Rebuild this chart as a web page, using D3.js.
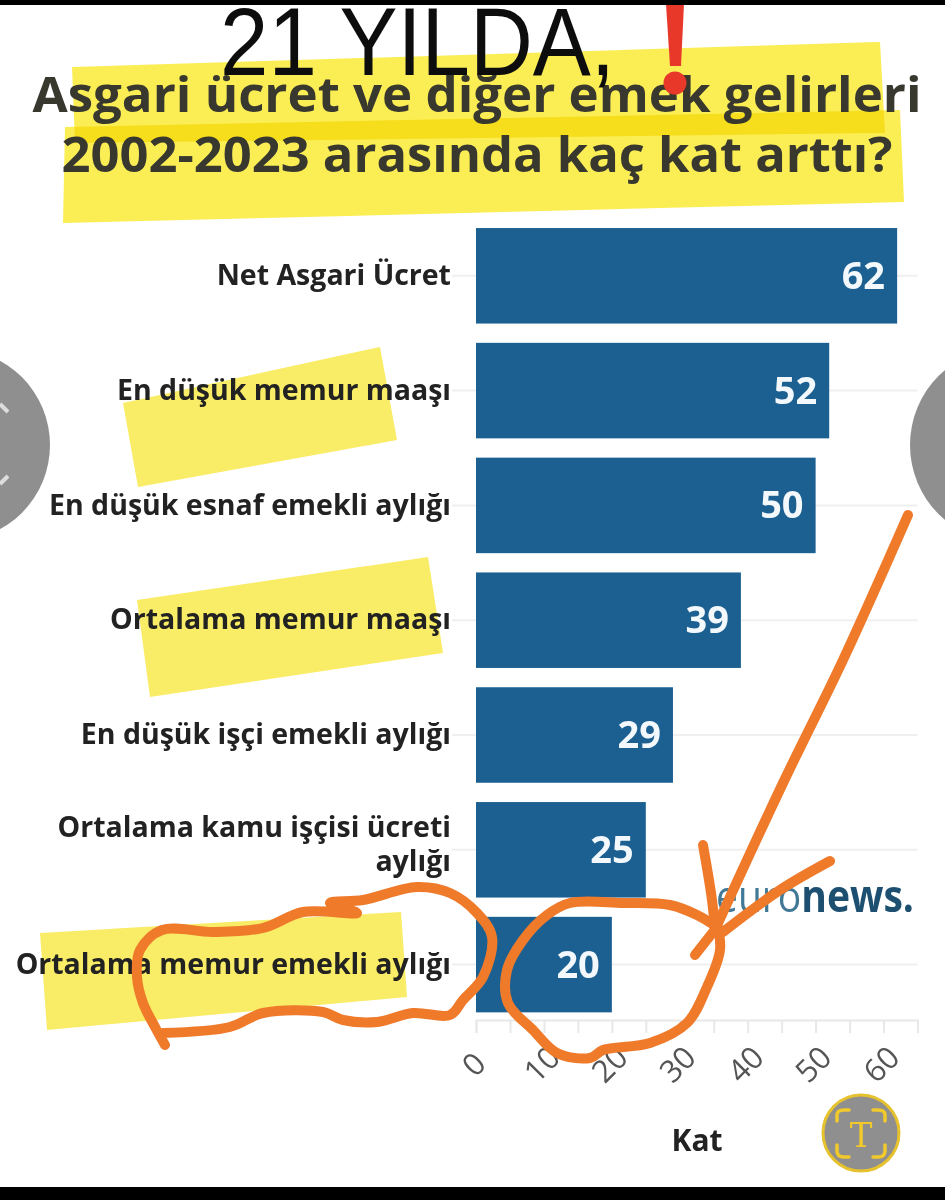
<!DOCTYPE html>
<html>
<head>
<meta charset="utf-8">
<script src="https://cdn.jsdelivr.net/npm/d3@7"></script>
<style>
  html, body { margin: 0; padding: 0; background: #fff; }
  text { font-family: "Open Sans", sans-serif; }
</style>
</head>
<body>
<div id="chart"></div>
<script>
const categories = [
  "Net Asgari Ücret",
  "En düşük memur maaşı",
  "En düşük esnaf emekli aylığı",
  "Ortalama memur maaşı",
  "En düşük işçi emekli aylığı",
  "Ortalama kamu işçisi ücreti aylığı",
  "Ortalama memur emekli aylığı"
];
const values = [62, 52, 50, 39, 29, 25, 20];
const axisTicks = [0, 5, 10, 15, 20, 25, 30, 35, 40, 45, 50, 55, 60, 65];
const tickLabels = [0, 10, 20, 30, 40, 50, 60];
const overTitle = "21 YILDA,";
const titleLines = ["Asgari ücret ve diğer emek gelirleri", "2002-2023 arasında kaç kat arttı?"];
const axisTitle = "Kat";

const width = 945, height = 1200;
const barColor = "#1b6092", yellow = "#f9ec66", orange = "#ef7a2c";

const svg = d3.select("#chart").append("svg")
  .attr("width", width)
  .attr("height", height)
  .style("display", "block");

svg.append("defs").append("filter").attr("id", "soft")
  .append("feGaussianBlur").attr("stdDeviation", 0.6);

const root = svg.append("g").attr("filter", "url(#soft)");

const x = d3.scaleLinear().domain([0, 65]).range([476, 917.5]);
const y = d3.scaleBand().domain(categories).range([218.4, 1022]).paddingInner(0.168).paddingOuter(0.084);

const polygon = (pts, fill) => root.append("polygon")
  .attr("points", pts.map(p => p.join(",")).join(" "))
  .attr("fill", fill)
  .style("mix-blend-mode", "multiply");

// grey page arrows from the screenshot
root.append("circle").attr("cx", -46).attr("cy", 445).attr("r", 96).attr("fill", "#8f8f8f");
root.append("circle").attr("cx", 1008).attr("cy", 445).attr("r", 98).attr("fill", "#8f8f8f");
root.append("path").attr("d", "M0,404L8,412M0,484L8,476").attr("stroke", "#ddd").attr("stroke-width", 4).attr("fill", "none");

// yellow marker highlights
polygon([[72, 67], [880, 42], [885, 133], [75, 143]], "#fbee55");
polygon([[65, 127], [900, 110], [904, 202], [63, 223]], "#fbee55");
polygon([[123, 403], [380, 347], [397, 440], [138, 487]], yellow);
polygon([[137, 600], [428, 557], [443, 653], [150, 697]], yellow);
polygon([[40, 933], [401, 912], [407, 997], [47, 1030]], yellow);

// horizontal grid
root.append("g").selectAll("line")
  .data(categories)
  .join("line")
  .attr("x1", 452)
  .attr("x2", x(65))
  .attr("y1", d => y(d) + y.bandwidth() / 2)
  .attr("y2", d => y(d) + y.bandwidth() / 2)
  .attr("stroke", "#efefef")
  .attr("stroke-width", 2);

// bars
root.append("g").selectAll("rect")
  .data(values)
  .join("rect")
  .attr("x", x(0))
  .attr("y", (d, i) => y(categories[i]))
  .attr("width", d => x(d) - x(0))
  .attr("height", y.bandwidth())
  .attr("fill", barColor);

root.append("g").selectAll("text")
  .data(values)
  .join("text")
  .attr("x", d => x(d) - 12)
  .attr("y", (d, i) => y(categories[i]) + y.bandwidth() / 2 + 13)
  .attr("text-anchor", "end")
  .attr("font-size", 38)
  .attr("font-weight", 700)
  .attr("fill", "#f2f8fb")
  .text(d => d);

// category axis
const yAxis = root.append("g")
  .attr("transform", `translate(${x(0)},0)`)
  .call(d3.axisLeft(y).tickSize(0).tickPadding(25));
yAxis.select(".domain").remove();
yAxis.selectAll("text")
  .attr("font-size", 28.5)
  .attr("font-weight", 700)
  .attr("fill", "#222")
  .style("font-family", '"Open Sans", sans-serif')
  .each(function (d) {
    const t = d3.select(this);
    if (this.getComputedTextLength() <= 445) return;
    const words = d.split(" ");
    const last = words.pop();
    const tx = t.attr("x");
    t.text(null).attr("dy", null);
    t.append("tspan").attr("x", tx).attr("y", -13).text(words.join(" "));
    t.append("tspan").attr("x", tx).attr("y", 21).text(last);
  });

// value axis
const xAxis = root.append("g")
  .attr("transform", "translate(0,1020)")
  .call(d3.axisBottom(x).tickValues(axisTicks).tickSize(13).tickFormat(d => tickLabels.includes(d) ? d : ""));
xAxis.select(".domain").attr("stroke", "#e8e8e8").attr("stroke-width", 2);
xAxis.selectAll(".tick line").attr("stroke", "#e8e8e8").attr("stroke-width", 2);
xAxis.selectAll(".tick text")
  .attr("font-size", 31)
  .attr("fill", "#555")
  .style("font-family", '"Open Sans", sans-serif')
  .attr("text-anchor", "middle")
  .attr("dy", null)
  .attr("y", 0)
  .attr("transform", "translate(5,52) rotate(-45)");

root.append("text")
  .attr("x", 697).attr("y", 1151)
  .attr("text-anchor", "middle")
  .attr("font-size", 30).attr("font-weight", 700).attr("fill", "#222")
  .text(axisTitle);

// euronews logo
const logo = root.append("text").attr("x", 716).attr("y", 912).attr("font-size", 44)
  .attr("textLength", 198).attr("lengthAdjust", "spacingAndGlyphs");
logo.append("tspan").attr("fill", "#3f7896").attr("font-weight", 400).text("euro");
logo.append("tspan").attr("fill", "#1d4f70").attr("font-weight", 700).text("news.");

// titles
root.append("text")
  .attr("x", 477).attr("y", 112)
  .attr("text-anchor", "middle")
  .attr("font-size", 48).attr("font-weight", 700).attr("fill", "#38382f")
  .attr("textLength", 889).attr("lengthAdjust", "spacingAndGlyphs")
  .text(titleLines[0]);
root.append("text")
  .attr("x", 477).attr("y", 172)
  .attr("text-anchor", "middle")
  .attr("font-size", 48).attr("font-weight", 700).attr("fill", "#38382f")
  .attr("textLength", 831).attr("lengthAdjust", "spacingAndGlyphs")
  .text(titleLines[1]);
root.append("text")
  .attr("x", 220).attr("y", 75)
  .attr("font-size", 96).attr("fill", "#111")
  .style("font-family", '"Liberation Sans", sans-serif')
  .attr("textLength", 395).attr("lengthAdjust", "spacingAndGlyphs")
  .text(overTitle);

// red exclamation mark
root.append("path").attr("d", "M666,4L684,4L681,66L670,66Z").attr("fill", "#e8392b");
root.append("circle").attr("cx", 675).attr("cy", 83).attr("r", 11.5).attr("fill", "#e8392b");

// orange pen scribbles
const pen = d3.line().curve(d3.curveCatmullRom.alpha(0.5));
const scribbles = [
  [[165, 1045], [155, 1027], [143, 1003], [137, 977], [140, 950], [162, 930], [213, 932], [263, 928], [303, 912], [357, 913], [330, 903], [363, 900], [417, 887], [450, 893], [477, 913], [492, 937], [483, 977], [463, 1000], [450, 1015], [413, 1013], [377, 1022], [343, 1020], [323, 1012], [263, 1013], [230, 1027], [163, 1033]],
  [[717, 927], [697, 915], [670, 905], [623, 903], [570, 903], [547, 915], [523, 940], [507, 970], [508, 1003], [533, 1030], [557, 1053], [590, 1058], [603, 1050], [650, 1043], [687, 1023], [707, 987], [720, 950], [717, 923]],
  [[714, 932], [783, 783], [843, 660], [908, 515]],
  [[703, 845], [712, 900], [715, 930]],
  [[695, 955], [717, 927]],
  [[830, 861], [780, 890], [723, 932]]
];
root.append("g").selectAll("path")
  .data(scribbles)
  .join("path")
  .attr("d", pen)
  .attr("fill", "none")
  .attr("stroke", orange)
  .attr("stroke-width", 10)
  .attr("stroke-linecap", "round")
  .attr("stroke-linejoin", "round");

// scan button
const btn = root.append("g").attr("transform", "translate(861,1133)");
btn.append("circle").attr("r", 38).attr("fill", "#8f8f90").attr("stroke", "#e6c22f").attr("stroke-width", 3);
btn.append("path")
  .attr("d", "M-24,-12V-18Q-24,-23 -17,-23H-12M12,-23H17Q24,-23 24,-18V-12M24,12V18Q24,24 17,24H12M-12,24H-17Q-24,24 -24,18V12")
  .attr("fill", "none").attr("stroke", "#f1c92c").attr("stroke-width", 3.5).attr("stroke-linecap", "round");
btn.append("text").attr("y", 14).attr("text-anchor", "middle").attr("font-size", 34)
  .attr("fill", "#f1c92c").style("font-family", '"DejaVu Serif", serif').text("T");

// black phone bars
root.append("rect").attr("width", width).attr("height", 5).attr("fill", "#000");
root.append("rect").attr("y", 1187).attr("width", width).attr("height", 13).attr("fill", "#000");
</script>
</body>
</html>
